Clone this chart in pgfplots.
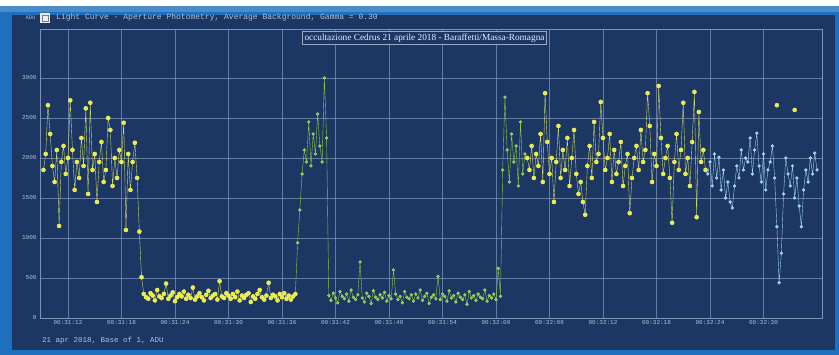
\documentclass[border=0pt]{standalone}
\usepackage{pgfplots}
\pgfplotsset{compat=1.18}
\usepackage{fontspec}
\setmainfont{Liberation Serif}
\newfontfamily\monof{Liberation Mono}
\definecolor{navy}{HTML}{1D3765}
\definecolor{frameblue}{HTML}{1E6FBE}
\definecolor{gridc}{HTML}{7F93B7}
\definecolor{labc}{HTML}{B4C0D6}
\definecolor{yel}{HTML}{EEEE38}
\definecolor{yelline}{HTML}{C9D86A}
\definecolor{grn}{HTML}{8CCB3C}
\definecolor{blu}{HTML}{9AD0EA}
\begin{document}
\begin{tikzpicture}[x=1pt,y=1pt]
\fill[white] (0,0) rectangle (839,355);
\fill[frameblue] (0,0) rectangle (839,349);
\fill[frameblue!80!white] (0,343) rectangle (839,349);
\fill[navy] (12,5) rectangle (835,340);
\begin{axis}[
  at={(40pt,37pt)}, anchor=south west, scale only axis,
  width=782pt, height=289pt,
  xmin=8.86, xmax=96.56, ymin=0, ymax=3612,
  axis line style={gridc, line width=0.6pt},
  xtick={12,18,...,90},
  xticklabels={00:31:12,00:31:18,00:31:24,00:31:30,00:31:36,00:31:42,00:31:48,00:31:54,00:32:00,00:32:06,00:32:12,00:32:18,00:32:24,00:32:30},
  ytick={0,500,...,3000},
  /pgf/number format/assume math mode=true,
  /pgf/number format/1000 sep={},
  tick style={draw=none},
  grid=major,
  major grid style={gridc, line width=0.5pt, opacity=0.75},
  ticklabel style={font=\monof\fontsize{6}{7}\selectfont, text=labc},
  xticklabel style={yshift=1pt},
  clip=false,
]
% A yellow
\addplot[yelline, line width=0.4pt, mark=*, mark size=2.1pt, mark options={fill=yel, draw=yel!60!white, line width=0.3pt}]
 table[x expr=9.25+0.25*\coordindex, y index=0, header=false, row sep=\\] {
1850\\2050\\2660\\2300\\1900\\1700\\2100\\1150\\1950\\2150\\1800\\2000\\2720\\2100\\1600\\1950\\1750\\2250\\1900\\2620\\1550\\2690\\1850\\2050\\1450\\1950\\2200\\1700\\1850\\2500\\2350\\1650\\2000\\1750\\2100\\1950\\2440\\1100\\2050\\1600\\1950\\2190\\1750\\1080\\510\\};
% B yellow low
\addplot[yelline, line width=0.4pt, mark=*, mark size=2.1pt, mark repeat=1, mark phase=2, mark options={fill=yel, draw=yel!60!white, line width=0.3pt}]
 table[x expr=20.25+0.25*\coordindex, y index=0, header=false, row sep=\\] {
510\\300\\260\\240\\310\\280\\220\\350\\270\\250\\300\\430\\240\\280\\320\\210\\260\\300\\270\\330\\240\\290\\250\\380\\230\\270\\310\\260\\220\\290\\340\\250\\280\\300\\230\\460\\270\\250\\310\\280\\240\\300\\260\\330\\220\\280\\250\\290\\310\\200\\270\\240\\300\\350\\260\\230\\280\\440\\250\\290\\270\\220\\300\\260\\310\\240\\280\\230\\270\\300\\};
% C green high
\addplot[grn, line width=0.4pt, mark=*, mark size=1.5pt, mark repeat=1, mark phase=2, mark options={fill=grn, draw=grn!70!white, line width=0.3pt}]
 table[x expr=37.5+0.25*\coordindex, y index=0, header=false, row sep=\\] {
300\\940\\1350\\1800\\2100\\1950\\2450\\1900\\2300\\2050\\2550\\2150\\1950\\3000\\2250\\};
% D green low
\addplot[grn, line width=0.4pt, mark=*, mark size=1.5pt, mark repeat=1, mark phase=2, mark options={fill=grn, draw=grn!70!white, line width=0.3pt}]
 table[x expr=41.0+0.25*\coordindex, y index=0, header=false, row sep=\\] {
2250\\280\\220\\310\\250\\190\\330\\270\\240\\300\\210\\350\\260\\230\\290\\700\\250\\200\\310\\270\\180\\340\\260\\230\\290\\250\\320\\210\\280\\240\\600\\300\\230\\270\\190\\330\\260\\240\\290\\210\\300\\250\\350\\220\\270\\310\\180\\260\\290\\240\\520\\230\\300\\270\\210\\340\\250\\280\\200\\310\\260\\230\\290\\170\\330\\250\\280\\220\\300\\260\\240\\350\\210\\280\\250\\300\\230\\620\\270\\};
% E green high
\addplot[grn, line width=0.4pt, mark=*, mark size=1.5pt, mark repeat=1, mark phase=2, mark options={fill=grn, draw=grn!70!white, line width=0.3pt}]
 table[x expr=60.5+0.25*\coordindex, y index=0, header=false, row sep=\\] {
270\\1850\\2760\\2100\\1700\\2300\\1950\\2150\\1650\\2450\\1800\\2050\\};
% F yellow high
\addplot[yelline, line width=0.4pt, mark=*, mark size=2.1pt, mark repeat=1, mark phase=2, mark options={fill=yel, draw=yel!60!white, line width=0.3pt}]
 table[x expr=63.25+0.25*\coordindex, y index=0, header=false, row sep=\\] {
2050\\2000\\1850\\2150\\1750\\2050\\1900\\2300\\1700\\2810\\2200\\1800\\2000\\1450\\1950\\2400\\1750\\2100\\1850\\2250\\1650\\2000\\2350\\1800\\1550\\1700\\1450\\1290\\1900\\2150\\1750\\2450\\1950\\2050\\2700\\2250\\1850\\2000\\2300\\1700\\2100\\1800\\1950\\2200\\1650\\1900\\2050\\1310\\1750\\2000\\2150\\1850\\2350\\1950\\2100\\2810\\2400\\1700\\2050\\1900\\2900\\2250\\1800\\2000\\2150\\1750\\1190\\1950\\2300\\1850\\2100\\2690\\1800\\2000\\1650\\2200\\2825\\1260\\2575\\1950\\2100\\1850\\};
% G light blue
\addplot[blu, line width=0.4pt, mark=*, mark size=1.5pt, mark repeat=1, mark phase=2, mark options={fill=blu, draw=blu!70!white, line width=0.3pt}]
 table[x expr=83.5+0.25*\coordindex, y index=0, header=false, row sep=\\] {
1850\\1800\\1950\\1650\\2050\\1750\\2010\\1600\\1850\\1500\\1700\\1450\\1375\\1650\\1900\\1750\\2100\\1850\\2000\\1950\\2250\\1800\\2100\\2310\\1900\\1700\\2050\\1600\\1850\\1950\\2150\\1750\\1140\\440\\810\\1550\\2000\\1800\\1650\\1900\\1500\\1750\\1400\\1140\\1600\\1850\\1700\\2000\\1800\\2060\\1850\\};
% isolated yellow points
\addplot[only marks, mark=*, mark size=2.1pt, mark options={fill=yel, draw=yel!60!white, line width=0.3pt}]
 coordinates {(91.5,2660) (93.5,2600)};
\end{axis}
% title row
\node[font=\monof\fontsize{5.5}{6}\selectfont, text=labc, anchor=west] at (22,337) {ADU};
\fill[white!85!gray] (40,332) rectangle (50,342);
\draw[gray] (42,334) rectangle (48,340);
\node[font=\monof\fontsize{8}{9}\selectfont, text=labc, anchor=west, inner sep=0pt] at (56,337.5) {Light Curve - Aperture Photometry, Average Background, Gamma = 0.30};
% inset label
\node[draw=gridc!80!white, fill=navy, line width=0.6pt, text=white!92!blue, font=\fontsize{9.3}{10}\selectfont, inner xsep=2pt, inner ysep=2.5pt] at (424.5,317) {occultazione Cedrus 21 aprile 2018 - Baraffetti/Massa-Romagna};
% bottom text
\node[font=\monof\fontsize{7.5}{8}\selectfont, text=labc, anchor=west, inner sep=0pt] at (42,14) {21 apr 2018, Base of 1, ADU};
\end{tikzpicture}
\end{document}
